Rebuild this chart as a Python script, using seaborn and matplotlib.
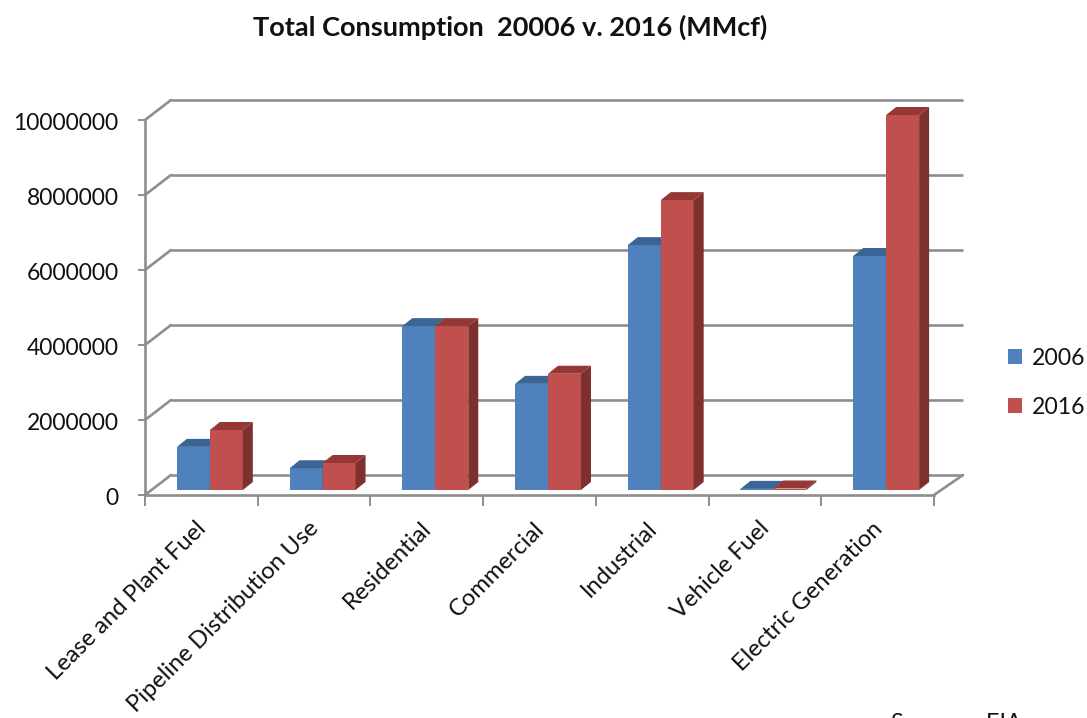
import pandas as pd
from matplotlib import pyplot as plt
from matplotlib.patches import Polygon
from matplotlib.transforms import Affine2D
import seaborn as sns

categories = ['Lease and Plant Fuel', 'Pipeline Distribution Use', 'Residential', 'Commercial',
              'Industrial', 'Vehicle Fuel', 'Electric Generation']
values2006 = [1150000, 580000, 4370000, 2830000, 6530000, 30000, 6240000]
values2016 = [1600000, 720000, 4370000, 3100000, 7730000, 40000, 10000000]
yticks = [0, 2000000, 4000000, 6000000, 8000000, 10000000]

data = pd.DataFrame({'category': categories * 2,
                     'value': values2006 + values2016,
                     'year': ['2006'] * 7 + ['2016'] * 7})

sns.set_style('white')
plt.rcParams['font.family'] = ['Lato', 'DejaVu Sans']

W, H = 1087, 718
fig = plt.figure(figsize=(W / 100, H / 100))
ax = fig.add_axes([145 / W, (H - 495) / H, 789 / W, 375 / H])
ax.patch.set_visible(False)

colors = {'2006': '#4F81BD', '2016': '#C0504D'}
sns.barplot(x='category', y='value', hue='year', data=data, palette=colors,
            order=categories, width=0.585, gap=0, saturation=1, ax=ax, zorder=3,
            linewidth=0, edgecolor='none')

ax.set_xlim(-0.5, 6.5)
ax.set_ylim(0, 10000000)
# size of one pixel in data units, the fake 3d is all pixel offsets
pxX = 7 / 789
pxY = 10000000 / 375
sns.despine(ax=ax)

# back wall and floor lines
grey = '#8E8E8E'
backX = 26 * pxX
backY = 20 * pxY
for tick in yticks:
    ax.plot([-0.5 + backX, 6.5 + 3 * pxX + backX], [tick + backY, tick + backY], color=grey, lw=1.9,
            clip_on=False, zorder=1, solid_capstyle='butt')
    ax.plot([-0.5, -0.5 + backX], [tick, tick + backY], color=grey, lw=1.9, clip_on=False, zorder=1)
ax.plot([6.5, 6.5 + 3 * pxX + backX], [0, backY], color=grey, lw=1.9, clip_on=False, zorder=1)

# move the bars off the front plane and give them a top and a side
topColors = {'2006': '#3A6595', '2016': '#953735'}
sideColors = {'2006': '#345A87', '2016': '#7D302E'}
shiftX = 8.5 * pxX
shiftY = 5 * pxY
depthX = 10 * pxX
depthY = 8 * pxY
for i, (container, year) in enumerate(zip(ax.containers, ['2006', '2016'])):
    for bar in container:
        bar.set_x(bar.get_x() + shiftX)
        bar.set_y(shiftY)
        bar.set_clip_on(False)
        bar.set_zorder(3 + i * 2)
        x0 = bar.get_x()
        x1 = x0 + bar.get_width()
        y0 = bar.get_y()
        y1 = y0 + bar.get_height()
        top = Polygon([(x0, y1), (x1, y1), (x1 + depthX, y1 + depthY), (x0 + depthX, y1 + depthY)],
                      facecolor=topColors[year], edgecolor='none', clip_on=False, zorder=3 + i * 2)
        side = Polygon([(x1, y0), (x1 + depthX, y0 + depthY), (x1 + depthX, y1 + depthY), (x1, y1)],
                       facecolor=sideColors[year], edgecolor='none', clip_on=False, zorder=3 + i * 2)
        ax.add_patch(top)
        ax.add_patch(side)

for spine in ['left', 'bottom']:
    ax.spines[spine].set_color(grey)
    ax.spines[spine].set_linewidth(1.9)
    ax.spines[spine].set_zorder(2)

ax.set(xlabel='', ylabel='')
ax.set_yticks(yticks)
ax.set_yticklabels([str(t) for t in yticks], fontsize=16.5, color='#111111')
ax.tick_params(axis='y', left=True, length=5, width=1.4, color=grey, pad=14)
for lab in ax.get_yticklabels():
    lab.set_transform(lab.get_transform() + Affine2D().translate(0, -1.5))

ax.set_xticks(range(7))
ax.set_xticklabels(categories, rotation=45, ha='right', rotation_mode='anchor', fontsize=17.1, color='#111111')
ax.tick_params(axis='x', which='major', bottom=False, pad=13)
for lab in ax.get_xticklabels():
    lab.set_transform(lab.get_transform() + Affine2D().translate(-6, 0))
ax.set_xticks([x - 0.5 for x in range(8)], minor=True)
ax.tick_params(axis='x', which='minor', bottom=True, length=8, width=1.4, color=grey)

leg = ax.legend(loc='upper left', bbox_to_anchor=(1008 / W, (H - 348) / H),
                bbox_transform=fig.transFigure, frameon=False, fontsize=16.6, title=None,
                handlelength=0.62, handleheight=0.62, handletextpad=0.42, labelspacing=1.2,
                borderaxespad=0, borderpad=0)
for text in leg.get_texts():
    text.set_color('#111111')

fig.text(510 / W, (H - 27) / H, 'Total Consumption  20006 v. 2016 (MMcf)', ha='center', va='center',
         fontsize=19.5, fontweight='bold', color='#111111')
fig.text(891 / W, (H - 713) / H, 'Source:   EIA', ha='left', va='top', fontsize=16.8, color='#111111')

fig.savefig('out.png', dpi=100)
